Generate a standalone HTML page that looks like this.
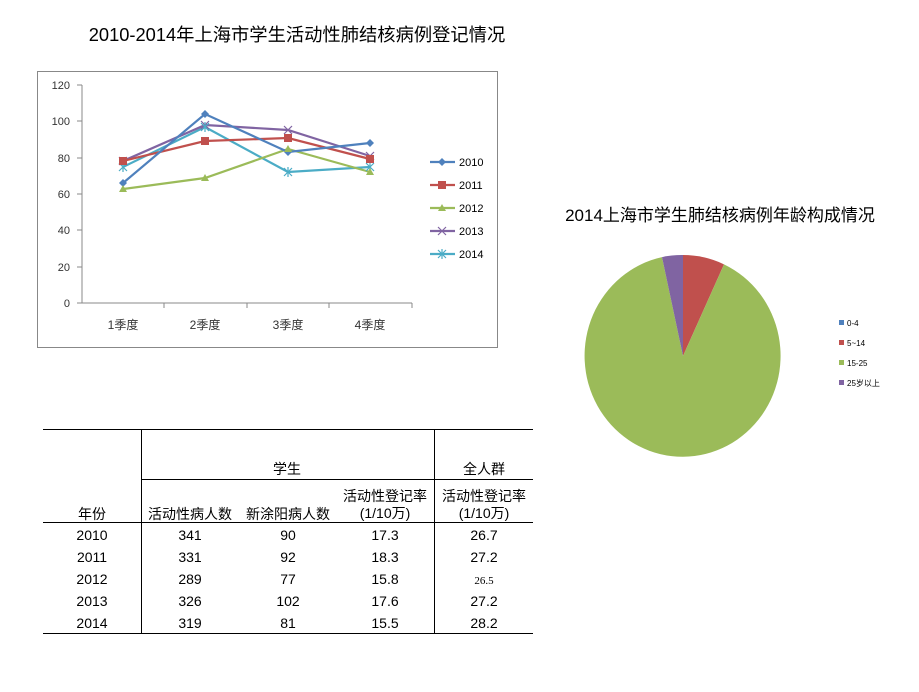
<!DOCTYPE html>
<html><head><meta charset="utf-8"><style>
body{margin:0;background:#fff;font-family:"Liberation Sans","Noto Sans CJK SC",sans-serif;}
</style></head><body>
<svg width="919" height="687" xmlns="http://www.w3.org/2000/svg" font-family="Liberation Sans, Noto Sans CJK SC, sans-serif">
<rect width="919" height="687" fill="#fff"/>
<text x="297" y="41" font-size="18.3" text-anchor="middle" fill="#000">2010-2014年上海市学生活动性肺结核病例登记情况</text>
<rect x="37.5" y="71.5" width="460" height="276" fill="#fff" stroke="#888"/>
<g font-size="11" fill="#333" text-anchor="end">
<text x="70" y="307">0</text><text x="70" y="271">20</text><text x="70" y="234">40</text><text x="70" y="198">60</text><text x="70" y="162">80</text><text x="70" y="125">100</text><text x="70" y="89">120</text>
</g>
<g stroke="#888" fill="none">
<line x1="82" y1="85" x2="82" y2="303"/><line x1="82" y1="303" x2="412" y2="303"/>
<line x1="77" y1="85" x2="82" y2="85"/><line x1="77" y1="121" x2="82" y2="121"/><line x1="77" y1="158" x2="82" y2="158"/><line x1="77" y1="194" x2="82" y2="194"/><line x1="77" y1="230" x2="82" y2="230"/><line x1="77" y1="267" x2="82" y2="267"/><line x1="77" y1="303" x2="82" y2="303"/>
<line x1="164" y1="303" x2="164" y2="308"/><line x1="247" y1="303" x2="247" y2="308"/><line x1="329" y1="303" x2="329" y2="308"/><line x1="412" y1="303" x2="412" y2="308"/>
</g>
<g font-size="12" fill="#333" text-anchor="middle">
<text x="123" y="329">1季度</text><text x="205" y="329">2季度</text><text x="288" y="329">3季度</text><text x="370" y="329">4季度</text>
</g>
<g fill="none" stroke-width="2.2">
<polyline stroke="#4bacc6" points="123,167 205,127 288,172 370,167"/>
<polyline stroke="#8064a2" points="123,161 205,125 288,130 370,156"/>
<polyline stroke="#9bbb59" points="123,189 205,178 288,149 370,172"/>
<polyline stroke="#c0504d" points="123,161 205,141 288,138 370,159"/>
<polyline stroke="#4f81bd" points="123,183 205,114 288,152 370,143"/>
</g>
<g stroke="#8064a2" stroke-width="1.2"><path d="M119,157l8,8M127,157l-8,8 M201,121l8,8M209,121l-8,8 M284,126l8,8M292,126l-8,8 M366,152l8,8M374,152l-8,8"/></g>
<g stroke="#4bacc6" stroke-width="1.2"><path d="M119,163l8,8M127,163l-8,8M123,162v10 M201,123l8,8M209,123l-8,8M205,122v10 M284,168l8,8M292,168l-8,8M288,167v10 M366,163l8,8M374,163l-8,8M370,162v10"/></g>
<g fill="#4f81bd"><path d="M123,179l4,4-4,4-4-4z M205,110l4,4-4,4-4-4z M288,148l4,4-4,4-4-4z M370,139l4,4-4,4-4-4z"/></g>
<g fill="#c0504d"><rect x="119" y="157" width="8" height="8"/><rect x="201" y="137" width="8" height="8"/><rect x="284" y="134" width="8" height="8"/><rect x="366" y="155" width="8" height="8"/></g>
<g fill="#9bbb59"><path d="M123,185l4,7h-8z M205,174l4,7h-8z M288,145l4,7h-8z M370,168l4,7h-8z"/></g>
<g font-size="11" fill="#000">
<line x1="430" y1="162" x2="455" y2="162" stroke="#4f81bd" stroke-width="2.2"/><path d="M442,158l4,4-4,4-4-4z" fill="#4f81bd"/><text x="459" y="166">2010</text>
<line x1="430" y1="185" x2="455" y2="185" stroke="#c0504d" stroke-width="2.2"/><rect x="438" y="181" width="8" height="8" fill="#c0504d"/><text x="459" y="189">2011</text>
<line x1="430" y1="208" x2="455" y2="208" stroke="#9bbb59" stroke-width="2.2"/><path d="M442,204l4,7h-8z" fill="#9bbb59"/><text x="459" y="212">2012</text>
<line x1="430" y1="231" x2="455" y2="231" stroke="#8064a2" stroke-width="2.2"/><path d="M438,227l8,8M446,227l-8,8" stroke="#8064a2" stroke-width="1.2"/><text x="459" y="235">2013</text>
<line x1="430" y1="254" x2="455" y2="254" stroke="#4bacc6" stroke-width="2.2"/><path d="M438,250l8,8M446,250l-8,8M442,249v10" stroke="#4bacc6" stroke-width="1.2"/><text x="459" y="258">2014</text>
</g>
<text x="720" y="221" font-size="17" text-anchor="middle">2014上海市学生肺结核病例年龄构成情况</text>
<g transform="translate(683,356) scale(1,1.03)">
<path d="M0,0 L0,-98 A98,98 0 0 1 41,-89 Z" fill="#c0504d"/>
<path d="M0,0 L41,-89 A98,98 0 1 1 -21,-96 Z" fill="#9bbb59"/>
<path d="M0,0 L-21,-96 A98,98 0 0 1 0,-98 Z" fill="#8064a2"/>
</g>
<g font-size="8" fill="#000">
<rect x="839" y="320" width="5" height="5" fill="#4f81bd"/><text x="847" y="326">0-4</text>
<rect x="839" y="340" width="5" height="5" fill="#c0504d"/><text x="847" y="346">5~14</text>
<rect x="839" y="360" width="5" height="5" fill="#9bbb59"/><text x="847" y="366">15-25</text>
<rect x="839" y="380" width="5" height="5" fill="#8064a2"/><text x="847" y="386">25岁以上</text>
</g>
<g stroke="#000" stroke-width="1">
<line x1="43" y1="429.5" x2="533" y2="429.5"/>
<line x1="142" y1="479.5" x2="533" y2="479.5"/>
<line x1="43" y1="522.5" x2="533" y2="522.5"/>
<line x1="43" y1="633.5" x2="533" y2="633.5"/>
<line x1="141.5" y1="429" x2="141.5" y2="634"/>
<line x1="434.5" y1="429" x2="434.5" y2="634"/>
</g>
<g font-size="14" fill="#000" text-anchor="middle">
<text x="287" y="474">学生</text><text x="484" y="474">全人群</text>
<text x="92" y="519">年份</text><text x="190" y="519">活动性病人数</text><text x="288" y="519">新涂阳病人数</text>
<text x="385" y="501">活动性登记率</text><text x="385" y="518">(1/10万)</text>
<text x="484" y="501">活动性登记率</text><text x="484" y="518">(1/10万)</text>
<text x="92" y="540">2010</text><text x="190" y="540">341</text><text x="288" y="540">90</text><text x="385" y="540">17.3</text><text x="484" y="540">26.7</text>
<text x="92" y="562">2011</text><text x="190" y="562">331</text><text x="288" y="562">92</text><text x="385" y="562">18.3</text><text x="484" y="562">27.2</text>
<text x="92" y="584">2012</text><text x="190" y="584">289</text><text x="288" y="584">77</text><text x="385" y="584">15.8</text><text x="484" y="584" font-size="11" font-family="Liberation Serif, serif">26.5</text>
<text x="92" y="606">2013</text><text x="190" y="606">326</text><text x="288" y="606">102</text><text x="385" y="606">17.6</text><text x="484" y="606">27.2</text>
<text x="92" y="628">2014</text><text x="190" y="628">319</text><text x="288" y="628">81</text><text x="385" y="628">15.5</text><text x="484" y="628">28.2</text>
</g>
</svg>
</body></html>
